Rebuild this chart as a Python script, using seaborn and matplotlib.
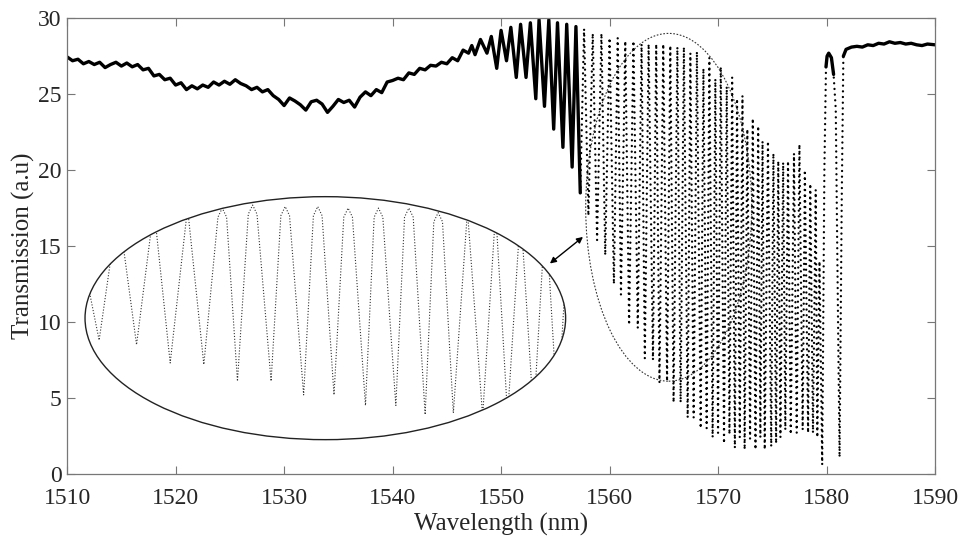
import numpy as np
import pandas as pd
import matplotlib
matplotlib.use("Agg")
import matplotlib.pyplot as plt
from matplotlib.patches import Ellipse
import seaborn as sns

# baseline before the fringes (nm, a.u.)
base_wl = [1510.0, 1510.5, 1511.0, 1511.5, 1512.0, 1512.5, 1513.0, 1513.5, 1514.0, 1514.5,
           1515.0, 1515.5, 1516.0, 1516.5, 1517.0, 1517.5, 1518.0, 1518.5, 1519.0, 1519.5,
           1520.0, 1520.5, 1521.0, 1521.5, 1522.0, 1522.5, 1523.0, 1523.5, 1524.0, 1524.5,
           1525.0, 1525.5, 1526.0, 1526.5, 1527.0, 1527.5, 1528.0, 1528.5, 1529.0, 1529.5,
           1530.0, 1530.5, 1531.0, 1531.5, 1532.0, 1532.5, 1533.0, 1533.5, 1534.0, 1534.5,
           1535.0, 1535.5, 1536.0, 1536.5, 1537.0, 1537.5, 1538.0, 1538.5, 1539.0, 1539.5,
           1540.0, 1540.5, 1541.0, 1541.5, 1542.0, 1542.5, 1543.0, 1543.5, 1544.0, 1544.5,
           1545.0, 1545.5, 1546.0, 1546.5, 1547.0, 1547.3, 1547.6, 1548.1, 1548.7]
base_tr = [27.45, 27.2, 27.3, 27.0, 27.15, 26.95, 27.1, 26.75, 26.95, 27.1,
           26.85, 27.05, 26.8, 26.95, 26.6, 26.7, 26.2, 26.3, 25.95, 26.05,
           25.6, 25.75, 25.3, 25.55, 25.35, 25.6, 25.45, 25.8, 25.6, 25.85,
           25.65, 25.95, 25.7, 25.55, 25.3, 25.45, 25.15, 25.3, 24.9, 24.65,
           24.25, 24.75, 24.55, 24.3, 23.95, 24.5, 24.6, 24.35, 23.8, 24.2,
           24.65, 24.45, 24.6, 24.15, 24.8, 25.15, 24.9, 25.3, 25.1, 25.8,
           25.9, 26.05, 25.95, 26.4, 26.3, 26.7, 26.6, 26.9, 26.85, 27.1,
           27.0, 27.4, 27.2, 27.9, 27.7, 28.2, 27.6, 28.6, 27.7]

# fringe maxima and minima
peak_wl = [1549.1, 1550.0, 1550.9, 1551.8, 1552.7, 1553.5, 1554.4, 1555.2, 1556.05, 1556.9,
           1557.65, 1558.45, 1559.25, 1560.0, 1560.75, 1561.45, 1562.2, 1562.95, 1563.6, 1564.3,
           1564.95, 1565.6, 1566.25, 1566.85, 1567.45, 1568.05, 1568.65, 1569.2, 1569.75, 1570.25,
           1570.8, 1571.3, 1571.75, 1572.25, 1572.7, 1573.2, 1573.7, 1574.1, 1574.6, 1575.1,
           1575.55, 1576.0, 1576.45, 1577.0, 1577.5, 1578.0, 1578.5, 1579.0, 1579.35]
peak_tr = [28.8, 29.2, 29.4, 29.6, 29.7, 29.9, 29.9, 29.7, 29.6, 29.45,
           29.3, 29.0, 29.0, 28.7, 28.7, 28.5, 28.5, 28.3, 28.3, 28.3,
           28.3, 28.2, 28.1, 28.1, 27.7, 27.8, 26.7, 27.4, 26.0, 26.8,
           25.5, 26.1, 24.7, 24.9, 22.7, 23.4, 22.9, 21.9, 21.9, 21.1,
           20.6, 20.5, 20.6, 21.1, 21.7, 20.0, 19.1, 18.7, 14.0]
dip_wl = [1549.6, 1550.5, 1551.4, 1552.3, 1553.2, 1554.0, 1554.85, 1555.7, 1556.55, 1557.3,
          1558.05, 1558.85, 1559.6, 1560.4, 1561.05, 1561.8, 1562.6, 1563.25, 1564.0, 1564.6,
          1565.3, 1565.9, 1566.55, 1567.2, 1567.75, 1568.4, 1568.95, 1569.5, 1570.0, 1570.55,
          1571.05, 1571.55, 1572.0, 1572.45, 1572.95, 1573.45, 1573.9, 1574.3, 1574.9, 1575.35,
          1575.75, 1576.2, 1576.7, 1577.25, 1577.8, 1578.3, 1578.75, 1579.15, 1579.6]
dip_tr = [26.7, 27.2, 26.1, 26.1, 24.7, 24.2, 22.7, 21.5, 20.2, 18.5,
          17.0, 15.4, 14.4, 12.5, 11.8, 9.8, 9.6, 7.6, 7.5, 6.0,
          6.1, 4.7, 4.7, 3.7, 3.7, 3.0, 3.0, 2.4, 2.7, 2.0,
          2.6, 1.7, 2.4, 1.6, 2.3, 1.6, 2.4, 1.6, 1.8, 2.0,
          2.4, 2.9, 2.6, 2.7, 2.9, 2.7, 2.7, 2.4, 0.6]

# absorption dips and flat tail
tail_wl = [1579.8, 1579.95, 1580.05, 1580.2, 1580.45, 1580.65, 1580.85, 1581.0, 1581.2, 1581.4,
           1581.55, 1581.8, 1582.3, 1582.8, 1583.3, 1583.8, 1584.3, 1584.8, 1585.3, 1585.8,
           1586.3, 1586.8, 1587.3, 1587.8, 1588.3, 1588.8, 1589.3, 1590.0]
tail_tr = [20.0, 26.8, 27.5, 27.7, 27.4, 26.3, 24.0, 14.0, 1.1, 18.0,
           27.5, 27.95, 28.1, 28.15, 28.1, 28.25, 28.2, 28.35, 28.3, 28.45,
           28.35, 28.4, 28.3, 28.35, 28.25, 28.2, 28.3, 28.25]

# magnified fringes in the inset (with the rounded tops of the visible peaks)
inset_wl = [1510.5, 1512.95, 1514.7, 1516.4, 1518.0, 1519.5, 1521.1, 1522.6,
            1523.9, 1524.3, 1524.7, 1525.7,
            1526.7, 1527.1, 1527.5, 1528.8,
            1529.7, 1530.1, 1530.5, 1531.8,
            1532.7, 1533.1, 1533.5, 1534.6,
            1535.5, 1535.9, 1536.3, 1537.5,
            1538.3, 1538.7, 1539.1, 1540.3,
            1541.1, 1541.5, 1541.9, 1543.0,
            1543.8, 1544.2, 1544.6, 1545.6,
            1546.9, 1548.3, 1549.5, 1550.6, 1551.8, 1553.0, 1554.1, 1555.2, 1556.3]
inset_tr = [17.5, 8.8, 17.5, 8.5, 17.5, 7.3, 17.5, 7.2,
            16.9, 17.5, 16.9, 6.1,
            17.1, 17.7, 17.1, 6.1,
            17.0, 17.6, 17.0, 5.2,
            17.0, 17.6, 17.0, 5.2,
            16.9, 17.5, 16.9, 4.5,
            16.9, 17.5, 16.9, 4.5,
            16.9, 17.5, 16.9, 3.9,
            16.6, 17.2, 16.6, 4.0,
            17.3, 3.8, 17.3, 3.8, 17.3, 3.8, 17.3, 4.0, 17.3]

fringe = pd.DataFrame({"wl": peak_wl + dip_wl, "tr": peak_tr + dip_tr}).sort_values("wl")
trace = pd.concat([pd.DataFrame({"wl": base_wl, "tr": base_tr}), fringe,
                   pd.DataFrame({"wl": tail_wl, "tr": tail_tr})], ignore_index=True)
inset = pd.DataFrame({"wl": inset_wl, "tr": inset_tr})

sns.set_style("ticks")
plt.rcParams["font.family"] = ["Liberation Serif", "DejaVu Serif"]

fig, ax = plt.subplots(figsize=(9.59, 5.36), dpi=100)
fig.subplots_adjust(left=0.07, right=0.975, bottom=0.116, top=0.966)

# solid where the sampling is dense, dots where it is sparse
solid1 = trace[trace.wl <= 1557.3]
dotted = trace[(trace.wl >= 1557.3) & (trace.wl <= 1581.6)]
hump = trace[(trace.wl >= 1579.95) & (trace.wl <= 1580.65)]
solid2 = trace[trace.wl >= 1581.55]

sns.lineplot(data=solid1, x="wl", y="tr", sort=False, estimator=None, color="black", lw=2.4, ax=ax)
sns.lineplot(data=dotted, x="wl", y="tr", sort=False, estimator=None, color="black", lw=1.7,
             linestyle=(0, (0.01, 2.4)), dash_capstyle="round", ax=ax)
sns.lineplot(data=hump, x="wl", y="tr", sort=False, estimator=None, color="black", lw=2.4, ax=ax)
sns.lineplot(data=solid2, x="wl", y="tr", sort=False, estimator=None, color="black", lw=2.4, ax=ax)

# inset ellipse with the zoomed fringes
ell = Ellipse((1533.8, 10.25), 44.3, 16.0, fill=False, edgecolor="#222222", lw=1.0, zorder=3)
ax.add_patch(ell)
sns.lineplot(data=inset, x="wl", y="tr", sort=False, estimator=None, color="#333333", lw=0.8,
             linestyle=(0, (1.0, 1.6)), ax=ax)
ax.lines[-1].set_clip_path(ell)

# dotted ellipse on the zoomed region
ax.add_patch(Ellipse((1565.45, 17.55), 15.3, 22.9, fill=False, edgecolor="#333333", lw=0.8,
                     linestyle=(0, (1.5, 1.5)), zorder=3))
ax.annotate("", xy=(1554.5, 13.85), xytext=(1557.55, 15.6),
            arrowprops=dict(arrowstyle="<|-|>", color="black", lw=1.0, mutation_scale=9,
                            shrinkA=0, shrinkB=0))

ax.set_xlim(1510, 1590)
ax.set_ylim(0, 30)
ax.set_xticks(np.arange(1510, 1591, 10))
ax.set_yticks(np.arange(0, 31, 5))
ax.tick_params(direction="in", length=6, width=0.8, color="#777777", labelsize=17,
               top=True, right=True)
ax.tick_params(axis="x", pad=10)
ax.tick_params(axis="y", pad=4)
for s in ax.spines.values():
    s.set_color("#777777")
    s.set_linewidth(0.9)
ax.set_xlabel("Wavelength (nm)", fontsize=18, labelpad=3)
ax.set_ylabel("Transmission (a.u)", fontsize=18, labelpad=2)

fig.savefig("out.png", dpi=100)
